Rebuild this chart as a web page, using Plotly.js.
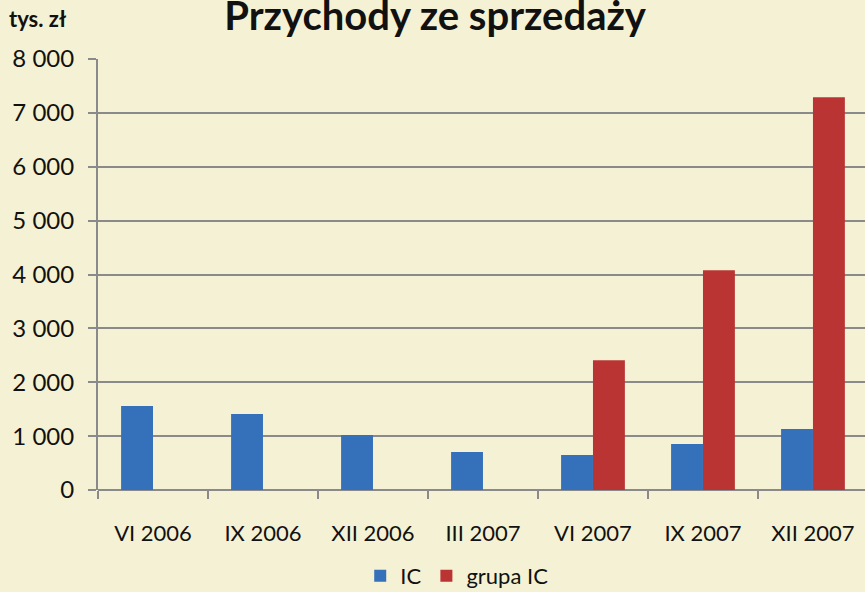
<!DOCTYPE html>
<html><head><meta charset="utf-8">
<script src="https://cdn.plot.ly/plotly-3.0.1.min.js"></script>
<style>html,body{margin:0;padding:0;background:#F5F1D4;}</style>
</head><body><div id="chart" style="width:865px;height:592px;"></div>
<script>
const categories = ["VI 2006","IX 2006","XII 2006","III 2007","VI 2007","IX 2007","XII 2007"];
const icValues = [1560, 1410, 1020, 705, 650, 855, 1130];
const grupaValues = [null, null, null, null, 2410, 4080, 7290];
const yTickVals = [0,1000,2000,3000,4000,5000,6000,7000,8000];
const yTickText = ["0","1 000","2 000","3 000","4 000","5 000","6 000","7 000","8 000"];

const font = "Lato, 'Open Sans', sans-serif";
const data = [
  {type:"bar", name:"IC", x:categories, y:icValues, marker:{color:"#3571BA"}},
  {type:"bar", name:"grupa IC", x:categories, y:grupaValues, marker:{color:"#BA3434"}}
];
const layout = {
  width:865, height:592,
  paper_bgcolor:"#F5F1D4", plot_bgcolor:"#F5F1D4",
  margin:{l:98, r:0, t:59, b:102, autoexpand:false},
  barmode:"group", bargap:0.42, bargroupgap:0,
  showlegend:true,
  legend:{orientation:"h", x:0.528, xanchor:"center", xref:"container", y:0.027, yanchor:"middle", yref:"container",
          font:{family:font, size:22, color:"#111"}, bgcolor:"rgba(0,0,0,0)", itemwidth:30, tracegroupgap:0},
  title:{text:"<b>Przychody ze sprzedaży</b>", x:0.503, xanchor:"center", xref:"container", y:0.973, yanchor:"middle", yref:"container",
         font:{family:font, size:40, color:"#111"}},
  xaxis:{type:"category", range:[-0.5, 6.473], tickson:"boundaries", ticks:"outside", ticklen:8, tickwidth:2, tickcolor:"#8a8a8a",
         showline:false, showgrid:false, tickfont:{family:font, size:22, color:"#111"}, ticklabelstandoff:28, tickangle:0, automargin:false, fixedrange:true},
  yaxis:{range:[0,8000], tickvals:yTickVals, ticktext:yTickText, ticks:"outside", ticklen:8, tickwidth:2, tickcolor:"#8a8a8a",
         showline:true, linecolor:"#8a8a8a", linewidth:2, showgrid:true, gridcolor:"#8a8a8a", gridwidth:2,
         zeroline:true, zerolinecolor:"#8a8a8a", zerolinewidth:2, automargin:false,
         tickfont:{family:font, size:24, color:"#111"}, ticklabelstandoff:9, fixedrange:true},
  annotations:[{text:"<b>tys. zł</b>", xref:"paper", yref:"paper", x:-0.118, y:1.0, xanchor:"left", yanchor:"bottom", yshift:25,
                showarrow:false, font:{family:font, size:22, color:"#111"}}]
};
Plotly.newPlot("chart", data, layout, {displayModeBar:false, staticPlot:true});
</script></body></html>
